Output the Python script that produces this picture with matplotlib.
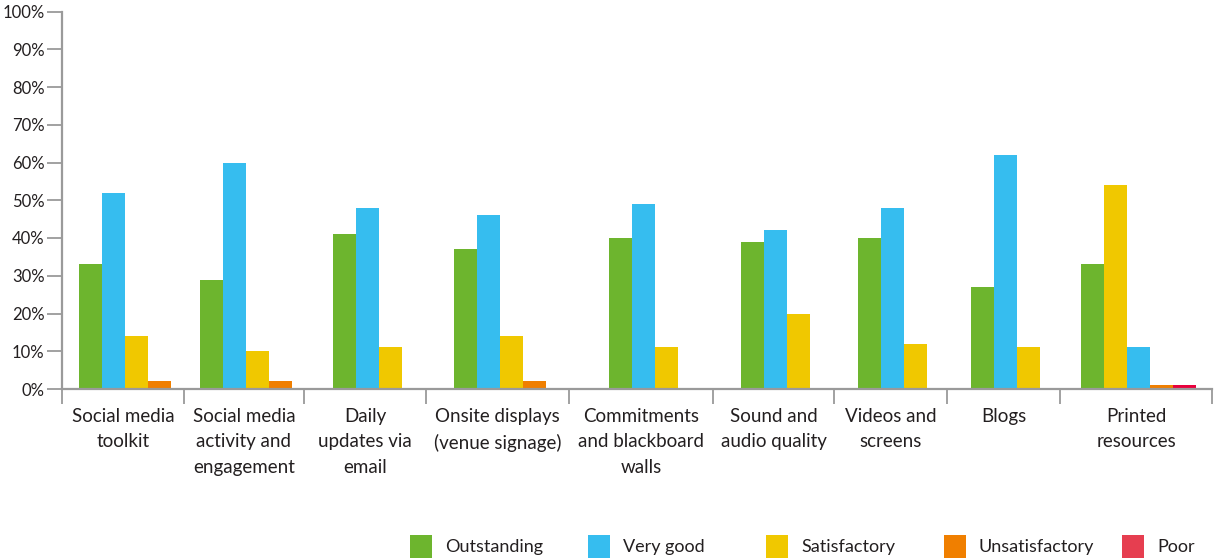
import matplotlib.pyplot as plt
from matplotlib.patches import Rectangle

plt.rcParams['font.family'] = ['Lato', 'DejaVu Sans']

categories = ["Social media\ntoolkit", "Social media\nactivity and\nengagement",
              "Daily\nupdates via\nemail", "Onsite displays\n(venue signage)",
              "Commitments\nand blackboard\nwalls", "Sound and\naudio quality",
              "Videos and\nscreens", "Blogs", "Printed\nresources"]
series = ["Outstanding", "Very good", "Satisfactory", "Unsatisfactory", "Poor"]
outstanding = [33, 29, 41, 37, 40, 39, 40, 27, 33]
very_good = [52, 60, 48, 46, 49, 42, 48, 62, 11]
satisfactory = [14, 10, 11, 14, 11, 20, 12, 11, 54]
unsatisfactory = [2, 2, 0, 2, 0, 0, 0, 0, 1]
poor = [0, 0, 0, 0, 0, 0, 0, 0, 1]
values = [outstanding, very_good, satisfactory, unsatisfactory, poor]

colors = ["#6db52e", "#36bdef", "#f0c800", "#f07f00", "#e8003c"]
legend_colors = ["#6db52e", "#36bdef", "#f0c800", "#f07f00", "#e63e50"]

# band edges along the x axis (pixel-like units), bars are 23 wide
edges = [62, 184, 304, 426, 569, 713, 834, 947, 1060, 1212]
bar_w = 23
# the last group draws satisfactory before very good
draw_order = {8: [0, 2, 1, 3, 4]}

W, H = 1216, 560
fig = plt.figure(figsize=(W / 100, H / 100), dpi=100)
ax = fig.add_axes([62 / W, 171 / H, 1150 / W, 377.5 / H])

for g in range(len(categories)):
    order = draw_order.get(g, range(len(series)))
    present = [s for s in order if values[s][g] > 0]
    mid = (edges[g] + edges[g + 1]) / 2 + 2
    for k, s in enumerate(present):
        x = mid + (k - (len(present) - 1) / 2) * bar_w
        ax.bar(x, values[s][g], width=bar_w, color=colors[s], linewidth=0, zorder=2)

ax.set_xlim(edges[0], edges[-1])
ax.set_ylim(0, 100)
ax.set_yticks(range(0, 101, 10))
ax.set_yticklabels([f"{v}%" for v in range(0, 101, 10)])

ax.set_xticks(edges)
ax.set_xticklabels([])
ax.set_xticks([(edges[i] + edges[i + 1]) / 2 for i in range(len(categories))], minor=True)
ax.set_xticklabels(categories, minor=True)
for t in ax.get_xticklabels(minor=True):
    t.set_linespacing(1.6)

grey = "#9a9a9a"
for side in ("top", "right"):
    ax.spines[side].set_visible(False)
for side in ("left", "bottom"):
    ax.spines[side].set_color(grey)
    ax.spines[side].set_linewidth(1.6)
    ax.spines[side].set_zorder(3)

ax.tick_params(axis="y", direction="out", length=11, width=1.3, color=grey,
               labelsize=12, labelcolor="#231f20", pad=1.5)
ax.tick_params(axis="x", which="major", direction="out", length=10.5, width=1.3, color=grey)
ax.tick_params(axis="x", which="minor", length=0, pad=13.5, labelsize=13.5, labelcolor="#231f20")

# legend row along the bottom
for i, name in enumerate(series):
    x0 = 410 + i * 178
    fig.add_artist(Rectangle((x0 / W, 2 / H), 22 / W, 23 / H,
                             transform=fig.transFigure, color=legend_colors[i], lw=0))
    fig.text((x0 + 35) / W, 13 / H, name, fontsize=13, color="#231f20",
             va="center", ha="left")

fig.savefig("out.png", dpi=100)
